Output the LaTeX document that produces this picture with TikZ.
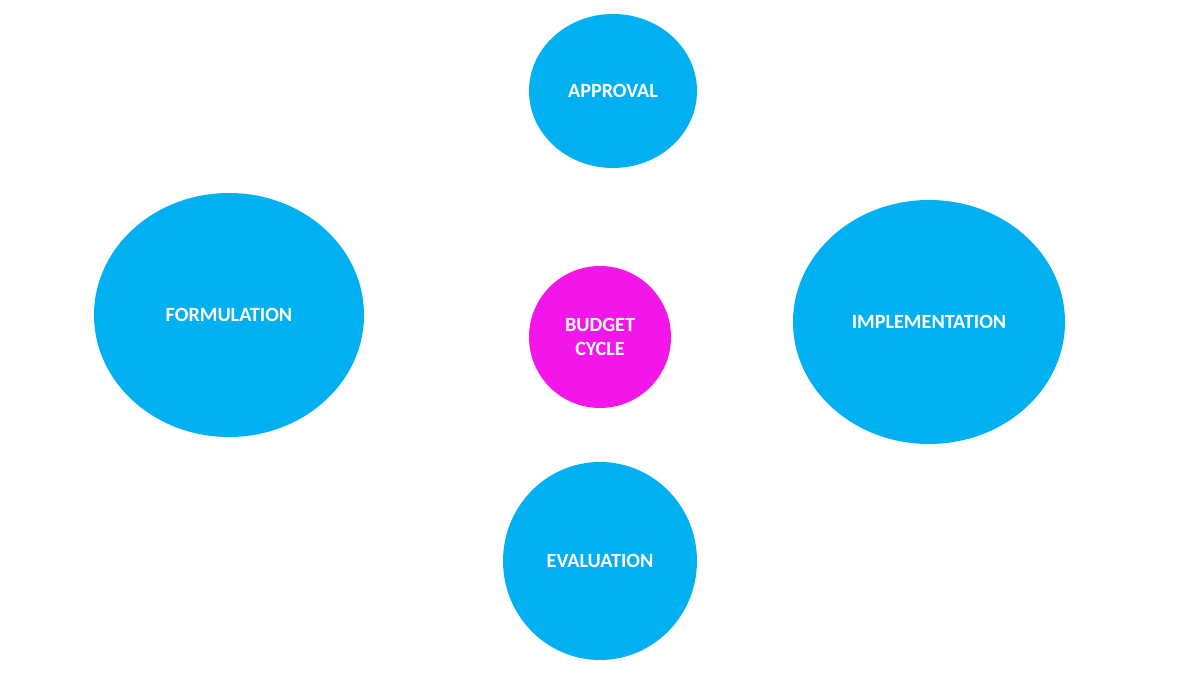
\documentclass[tikz,border=0pt]{standalone}
\usepackage{fontspec}
\setmainfont{Carlito}
\usetikzlibrary{shapes.geometric}
\definecolor{cblue}{HTML}{00B0F0}
\definecolor{cmag}{HTML}{F216E8}
\begin{document}
\begin{tikzpicture}[x=0.02cm,y=-0.02cm,
  blob/.style={ellipse,draw=none,fill=cblue,text=white,inner sep=0pt,
    font=\fontsize{11.5pt}{14pt}\selectfont\bfseries,align=center}]
\useasboundingbox[fill=white] (0,0) rectangle (1200,675);
\node[blob,minimum width=168*0.02cm,minimum height=154*0.02cm] (approval) at (613,91) {APPROVAL};
\node[blob,minimum width=270*0.02cm,minimum height=244*0.02cm] (formulation) at (229,315) {FORMULATION};
\node[blob,minimum width=272*0.02cm,minimum height=244*0.02cm] (implementation) at (929,322) {IMPLEMENTATION};
\node[blob,fill=cmag,minimum width=142*0.02cm,minimum height=142*0.02cm] (cycle) at (600,337) {BUDGET\\CYCLE};
\node[blob,minimum width=194*0.02cm,minimum height=198*0.02cm] (evaluation) at (600,561) {EVALUATION};
\end{tikzpicture}
\end{document}
